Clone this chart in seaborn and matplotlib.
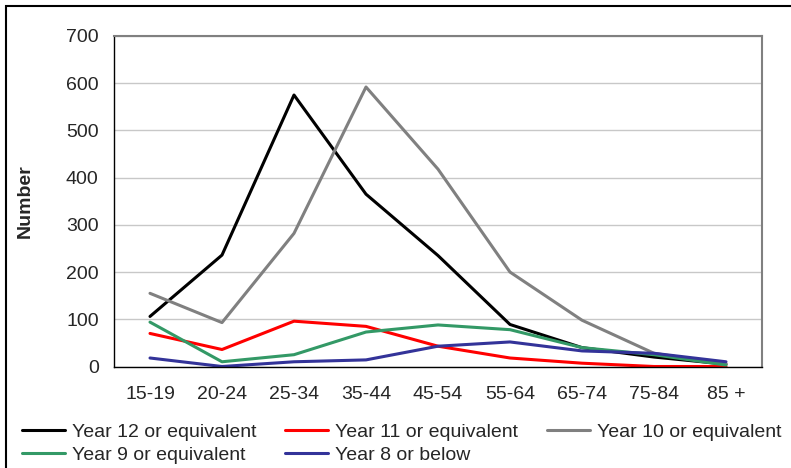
import matplotlib
matplotlib.use("Agg")
import matplotlib.pyplot as plt
import numpy as np
import pandas as pd
import seaborn as sns
from matplotlib.patches import Rectangle

# %%
age_groups = ["15-19", "20-24", "25-34", "35-44", "45-54", "55-64", "65-74", "75-84", "85 +"]

year12 = [106, 236, 575, 365, 235, 89, 40, 20, 5]
year11 = [70, 36, 96, 85, 43, 18, 7, 0, 0]
year10 = [155, 93, 282, 592, 418, 200, 98, 28, 5]
year9 = [94, 10, 25, 73, 88, 78, 40, 25, 3]
year8 = [18, 0, 10, 14, 43, 52, 33, 28, 10]

series = {
    "Year 12 or equivalent": year12,
    "Year 11 or equivalent": year11,
    "Year 10 or equivalent": year10,
    "Year 9 or equivalent": year9,
    "Year 8 or below": year8,
}
colors = {
    "Year 12 or equivalent": "#000000",
    "Year 11 or equivalent": "#ff0000",
    "Year 10 or equivalent": "#808080",
    "Year 9 or equivalent": "#339966",
    "Year 8 or below": "#333399",
}

df = pd.DataFrame(
    [
        {"pos": i, "age": a, "series": name, "value": v}
        for name, vals in series.items()
        for i, (a, v) in enumerate(zip(age_groups, vals))
    ]
)

# %%
sns.set_style("white")
plt.rcParams["font.family"] = ["Liberation Sans", "DejaVu Sans"]

fig = plt.figure(figsize=(7.91, 4.68), dpi=100)
ax = fig.add_axes([114 / 791, 1 - 366.5 / 468, (762 - 114) / 791, (366.5 - 36) / 468])

sns.lineplot(
    df,
    x="pos",
    y="value",
    hue="series",
    hue_order=list(series),
    palette=colors,
    linewidth=2.2,
    ax=ax,
    legend=False,
)

ax.set_xlim(-0.5, len(age_groups) - 0.5)
ax.set_ylim(0, 700)
ax.set_yticks(range(0, 701, 100))
ax.set_xticks(range(len(age_groups)))
ax.set_xticklabels(age_groups)
ax.set_xticks(np.arange(-0.5, len(age_groups)), minor=True)
ax.tick_params(axis="x", which="major", length=0, pad=14, labelsize=14)
ax.tick_params(axis="x", which="minor", length=5, width=1, color="black", direction="out")
ax.tick_params(axis="y", length=3, width=1, color="black", direction="out", pad=8, labelsize=14)

ax.yaxis.grid(True, color="#c8c8c8", linewidth=1)
ax.set_axisbelow(True)

for side in ["left", "bottom"]:
    ax.spines[side].set_color("black")
    ax.spines[side].set_linewidth(1)
for side in ["top", "right"]:
    ax.spines[side].set_color("#808080")
    ax.spines[side].set_linewidth(1.5)

ax.set_xlabel("")
ax.set_ylabel("Number", fontsize=14, weight="bold")
ax.yaxis.set_label_coords((34 - 114) / 648, 0.5)

# legend, filled column by column
order = [
    "Year 12 or equivalent",
    "Year 9 or equivalent",
    "Year 11 or equivalent",
    "Year 8 or below",
    "Year 10 or equivalent",
]
handles = [plt.Line2D([], [], color=colors[n], linewidth=2.2) for n in order]
fig.legend(
    handles,
    order,
    loc="upper left",
    bbox_to_anchor=(22 / 791, 1 - 423 / 468),
    ncol=3,
    frameon=False,
    fontsize=14,
    handlelength=2.2,
    handletextpad=0.35,
    columnspacing=1.5,
    labelspacing=0.3,
    borderaxespad=0,
    borderpad=0,
)

fig.patches.append(
    Rectangle(
        (6 / 791, -0.1),
        1.2,
        1 - 6 / 468 + 0.1,
        transform=fig.transFigure,
        fill=False,
        edgecolor="black",
        linewidth=1.5,
    )
)

fig.savefig("out.png", dpi=100)
